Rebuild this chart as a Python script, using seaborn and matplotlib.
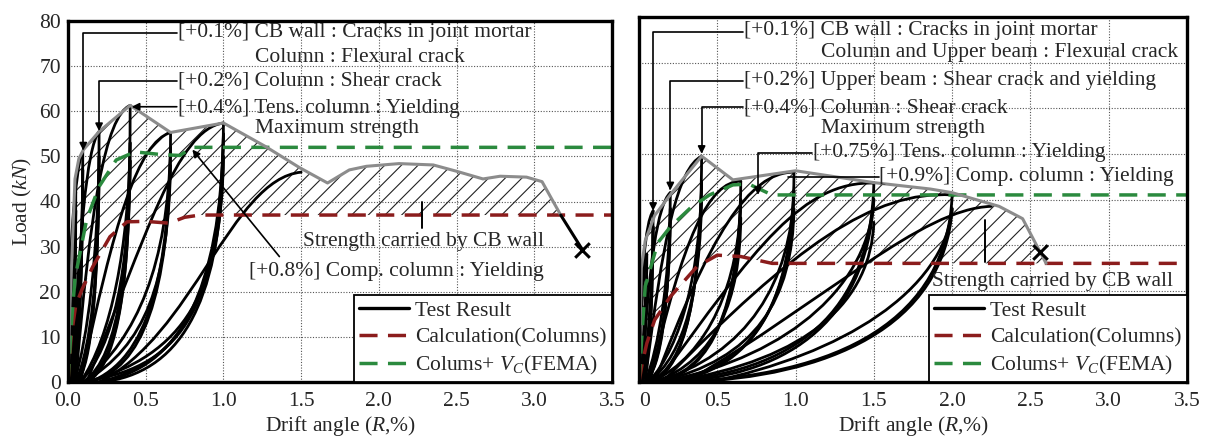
import numpy as np
import matplotlib
matplotlib.use("Agg")
import matplotlib.pyplot as plt
import seaborn as sns
from matplotlib.path import Path
from matplotlib.patches import PathPatch
from matplotlib.lines import Line2D

# ---------------- data ----------------
x_ticks = [0.0, 0.5, 1.0, 1.5, 2.0, 2.5, 3.0, 3.5]
L_xtick_labels = ["0.0", "0.5", "1.0", "1.5", "2.0", "2.5", "3.0", "3.5"]
R_xtick_labels = ["0", "0.5", "1.0", "1.5", "2.0", "2.5", "3.0", "3.5"]
y_ticks = [0, 10, 20, 30, 40, 50, 60, 70, 80]

legend_labels = ["Test Result", "Calculation(Columns)", r"Colums+ $V_C$(FEMA)"]

# ---- left specimen ----
L_env_x = [0.0, 0.01, 0.03, 0.045, 0.07, 0.10, 0.20, 0.40, 0.66, 1.00, 1.27, 1.49,
           1.67, 1.81, 1.92, 2.13, 2.35, 2.50, 2.67, 2.78, 2.95, 3.05, 3.17]
L_env_y = [0.0, 15.0, 32.0, 45.0, 49.5, 51.5, 55.5, 61.3, 55.3, 57.4, 52.2, 47.5,
           44.1, 47.0, 47.8, 48.4, 48.1, 46.7, 45.0, 45.6, 45.4, 44.4, 37.0]
L_fail_x = [3.17, 3.31]
L_fail_y = [37.0, 29.3]
L_calc_x = [0.0, 0.02, 0.05, 0.09, 0.16, 0.27, 0.38, 0.50, 0.65, 0.75, 0.85, 3.5]
L_calc_y = [0.0, 10.0, 17.0, 20.5, 25.6, 32.2, 35.5, 35.6, 35.2, 36.5, 37.0, 37.0]
L_fema_x = [0.0, 0.02, 0.045, 0.12, 0.20, 0.31, 0.43, 0.60, 0.72, 0.80, 3.5]
L_fema_y = [0.0, 12.0, 23.0, 36.0, 43.3, 49.2, 51.0, 50.4, 50.2, 52.0, 52.0]
L_cross = (3.31, 29.3)

# hysteresis branches: (x0, y0, c1x, c1y, c2x, c2y, x3, y3) cubic Bezier control points
L_branches = [
    (0.00, 0, 0.010, 22, 0.020, 36, 0.050, 42),
    (0.050, 42, 0.048, 20, 0.035, 5, 0.010, 0),
    (0.010, 0, 0.030, 14, 0.045, 28, 0.050, 38),
    (0.050, 38, 0.047, 15, 0.035, 4, 0.015, 0),
    (0.010, 0, 0.020, 30, 0.040, 47, 0.095, 51),
    (0.095, 51, 0.093, 22, 0.070, 6, 0.030, 0),
    (0.020, 0, 0.060, 10, 0.090, 28, 0.095, 47),
    (0.095, 47, 0.092, 18, 0.060, 4, 0.030, 0),
    (0.020, 0, 0.070, 8, 0.092, 25, 0.095, 44),
    (0.030, 0, 0.070, 32, 0.120, 52, 0.200, 55.5),
    (0.200, 55.5, 0.198, 24, 0.160, 6, 0.060, 0),
    (0.040, 0, 0.130, 10, 0.190, 28, 0.200, 50),
    (0.200, 50, 0.195, 20, 0.150, 4, 0.060, 0),
    (0.050, 0, 0.150, 8, 0.195, 24, 0.200, 46),
    (0.050, 0, 0.140, 38, 0.240, 59, 0.400, 61.3),
    (0.400, 61.3, 0.398, 26, 0.340, 6, 0.100, 0),
    (0.080, 0, 0.280, 10, 0.390, 30, 0.400, 53),
    (0.400, 53, 0.395, 20, 0.320, 4, 0.100, 0),
    (0.080, 0, 0.300, 8, 0.390, 25, 0.400, 49),
    (0.400, 49, 0.390, 18, 0.300, 3, 0.120, 0),
    (0.080, 0, 0.300, 36, 0.450, 53, 0.660, 55.3),
    (0.660, 55.3, 0.655, 24, 0.520, 5, 0.140, 0),
    (0.100, 0, 0.450, 10, 0.640, 26, 0.660, 52),
    (0.660, 52, 0.650, 19, 0.480, 3, 0.140, 0),
    (0.100, 0, 0.500, 8, 0.645, 22, 0.660, 48),
    (0.120, 0, 0.500, 32, 0.700, 56, 1.000, 57.4),
    (1.000, 57.4, 0.995, 24, 0.820, 5, 0.200, 0),
    (0.080, 0, 0.700, 3, 0.980, 14, 1.000, 55),
    (1.000, 55, 0.980, 20, 0.720, 3, 0.200, 0),
    (0.120, 0, 0.750, 6, 0.990, 20, 1.000, 50),
    (1.000, 50, 0.980, 16, 0.700, 2, 0.220, 0),
    (0.200, 0, 0.800, 10, 1.050, 45, 1.500, 46.5),
]

L_texts = ["[+0.1%] CB wall : Cracks in joint mortar", "Column : Flexural crack",
           "[+0.2%] Column : Shear crack", "[+0.4%] Tens. column : Yielding",
           "Maximum strength", "[+0.8%] Comp. column : Yielding",
           "Strength carried by CB wall"]
L_text_x = [0.705, 1.204, 0.705, 0.705, 1.204, 1.163, 1.51]
L_text_y = [77.4, 71.9, 66.8, 60.7, 56.1, 24.4, 31.1]
# elbow arrows (start at text, tip on curve)
L_elbow_from = [(0.70, 77.4), (0.70, 66.8)]
L_elbow_to = [(0.098, 51.3), (0.20, 55.6)]
# straight arrows
L_arrow_from = [(0.70, 61.0), (1.36, 27.8)]
L_arrow_to = [(0.41, 61.0), (0.80, 51.5)]
L_mark_x = [2.28, 2.28]
L_mark_y = [34.1, 39.8]

# ---- right specimen ----
R_env_x = [0.0, 0.015, 0.04, 0.10, 0.21, 0.40, 0.60, 1.00, 1.50, 1.86, 2.00, 2.30, 2.45, 2.60]
R_env_y = [0.0, 25.0, 31.0, 36.5, 41.5, 49.5, 44.3, 46.3, 43.7, 42.3, 41.5, 38.5, 35.8, 26.0]
R_calc_x = [0.0, 0.02, 0.05, 0.10, 0.20, 0.37, 0.50, 0.65, 0.85, 3.5]
R_calc_y = [0.0, 4.0, 8.5, 13.6, 18.7, 25.3, 27.8, 27.5, 26.0, 26.0]
R_fema_x = [0.0, 0.02, 0.04, 0.12, 0.20, 0.33, 0.45, 0.60, 0.70, 0.85, 3.5]
R_fema_y = [0.0, 11.0, 21.0, 30.5, 34.0, 38.2, 41.0, 43.2, 43.4, 41.0, 41.0]
R_cross = (2.56, 28.5)

R_branches = [
    (0.00, 0, 0.010, 15, 0.030, 25, 0.050, 28),
    (0.050, 28, 0.047, 12, 0.035, 3, 0.010, 0),
    (0.010, 0, 0.030, 10, 0.045, 20, 0.050, 25),
    (0.000, 0, 0.012, 24, 0.040, 35, 0.090, 37.5),
    (0.090, 37.5, 0.088, 15, 0.065, 3, 0.020, 0),
    (0.020, 0, 0.060, 8, 0.085, 22, 0.090, 34),
    (0.090, 34, 0.085, 12, 0.055, 2, 0.020, 0),
    (0.020, 0, 0.060, 26, 0.120, 39, 0.200, 41.5),
    (0.200, 41.5, 0.195, 16, 0.140, 3, 0.040, 0),
    (0.040, 0, 0.130, 8, 0.190, 22, 0.200, 38),
    (0.200, 38, 0.190, 12, 0.110, 2, 0.040, 0),
    (0.040, 0, 0.140, 6, 0.195, 19, 0.200, 35),
    (0.040, 0, 0.150, 32, 0.250, 47, 0.400, 49.5),
    (0.400, 49.5, 0.395, 18, 0.300, 4, 0.070, 0),
    (0.060, 0, 0.280, 8, 0.390, 25, 0.400, 44),
    (0.400, 44, 0.385, 14, 0.250, 2, 0.080, 0),
    (0.060, 0, 0.300, 6, 0.390, 21, 0.400, 40),
    (0.070, 0, 0.280, 32, 0.450, 44, 0.650, 44),
    (0.650, 44, 0.645, 15, 0.450, 2, 0.100, 0),
    (0.080, 0, 0.450, 6, 0.640, 22, 0.650, 40),
    (0.650, 40, 0.630, 12, 0.400, 1, 0.100, 0),
    (0.100, 0, 0.500, 5, 0.645, 18, 0.650, 36),
    (0.100, 0, 0.450, 32, 0.700, 46, 0.990, 46),
    (0.990, 46, 0.985, 15, 0.700, 2, 0.120, 0),
    (0.100, 0, 0.700, 6, 0.970, 22, 0.990, 42),
    (0.990, 42, 0.970, 12, 0.600, 1, 0.150, 0),
    (0.120, 0, 0.750, 5, 0.980, 18, 0.990, 38),
    (0.120, 0, 0.750, 30, 1.050, 44, 1.500, 43.6),
    (1.500, 43.6, 1.480, 15, 1.000, 2, 0.150, 0),
    (0.150, 0, 1.000, 6, 1.470, 22, 1.500, 40),
    (1.500, 40, 1.450, 12, 0.900, 1, 0.200, 0),
    (0.200, 0, 1.100, 5, 1.480, 18, 1.500, 35),
    (0.150, 0, 1.000, 30, 1.500, 42, 2.000, 41),
    (2.000, 41, 1.970, 14, 1.300, 1, 0.200, 0),
    (0.450, 0, 1.300, 6, 1.950, 20, 2.000, 38),
    (2.000, 38, 1.950, 12, 1.200, 1, 0.300, 0),
    (0.300, 0, 1.200, 18, 1.800, 38, 2.250, 38.5),
]

R_texts = ["[+0.1%] CB wall : Cracks in joint mortar", "Column and Upper beam : Flexural crack",
           "[+0.2%] Upper beam : Shear crack and yielding", "[+0.4%] Column : Shear crack",
           "Maximum strength", "[+0.75%] Tens. column : Yielding",
           "[+0.9%] Comp. column : Yielding", "Strength carried by CB wall"]
R_text_x = [0.671, 1.16, 0.671, 0.671, 1.16, 1.11, 1.535, 1.87]
R_text_y = [77.1, 72.3, 66.0, 60.1, 55.5, 50.2, 45.0, 22.0]
R_elbow_from = [(0.665, 76.8), (0.665, 66.0), (0.665, 60.3), (1.105, 50.3)]
R_elbow_to = [(0.09, 37.5), (0.20, 42.0), (0.40, 50.0), (0.76, 41.0)]
R_line_x = [1.53, 0.95]
R_line_y = [45.0, 45.0]
R_mark_x = [2.21, 2.21]
R_mark_y = [26.2, 35.4]

# ---------------- style ----------------
sns.set_theme(style="white")
FONT = "Liberation Serif"
plt.rcParams["font.family"] = [FONT, "DejaVu Serif"]
plt.rcParams["mathtext.fontset"] = "custom"
plt.rcParams["mathtext.rm"] = FONT
plt.rcParams["mathtext.it"] = FONT + ":italic"
plt.rcParams["mathtext.bf"] = FONT + ":bold"
plt.rcParams["hatch.linewidth"] = 0.8
plt.rcParams["hatch.color"] = "#222222"

FS = 15.5
ENV_C = "#8c8c8c"
RED_C = "#8b1c1c"
GRN_C = "#2b8a3e"
DASH = (0, (5.2, 3.0))

fig = plt.figure(figsize=(12.05, 4.42), dpi=100)
axL = fig.add_axes([68 / 1205, 60 / 442, 544 / 1205, 361 / 442])
axR = fig.add_axes([639 / 1205, 60 / 442, 548 / 1205, 365 / 442])


def draw_branches(ax, branches):
    codes = [Path.MOVETO, Path.CURVE4, Path.CURVE4, Path.CURVE4]
    for b in branches:
        verts = [(b[0], b[1]), (b[2], b[3]), (b[4], b[5]), (b[6], b[7])]
        ax.add_patch(PathPatch(Path(verts, codes), facecolor="none", edgecolor="black",
                               lw=2.0, zorder=4, capstyle="round", joinstyle="round"))


def hatch_region(ax, env_x, env_y, calc_x, calc_y):
    ex = np.asarray(env_x, float)
    ey = np.asarray(env_y, float)
    cx = np.asarray(calc_x, float)
    cy = np.asarray(calc_y, float)
    keep = cx < ex[-1]
    px = np.concatenate([ex, cx[keep][::-1]])
    py = np.concatenate([ey, cy[keep][::-1]])
    ax.fill(px, py, facecolor="none", edgecolor="#222222", hatch="//", lw=0, zorder=2)


def setup(ax, xlabels, show_y, first_left=False):
    ax.set_xlim(0, 3.5)
    ax.set_ylim(0, 80)
    ax.set_xticks(x_ticks)
    ax.set_xticklabels(xlabels, fontsize=FS)
    if first_left:
        ax.get_xticklabels()[0].set_horizontalalignment("left")
    ax.set_yticks(y_ticks)
    if show_y:
        ax.set_yticklabels([str(v) for v in y_ticks], fontsize=FS)
        ax.set_ylabel(r"Load ($kN$)", fontsize=FS, labelpad=4)
    else:
        ax.set_yticklabels([])
    ax.tick_params(axis="y", length=0, pad=5)
    ax.tick_params(axis="x", length=0, pad=7)
    ax.grid(True, linestyle=(0, (1, 1.5)), color="#555555", lw=0.8)
    ax.set_axisbelow(True)
    for s in ax.spines.values():
        s.set_color("black")
        s.set_linewidth(2.4)
        s.set_zorder(10)
    ax.set_xlabel(r"Drift angle ($R$,%)", fontsize=FS, labelpad=2)


def panel(ax, env_x, env_y, calc_x, calc_y, fema_x, fema_y, branches, cross):
    hatch_region(ax, env_x, env_y, calc_x, calc_y)
    draw_branches(ax, branches)
    sns.lineplot(x=calc_x, y=calc_y, ax=ax, color=RED_C, lw=2.5, ls=DASH,
                 sort=False, estimator=None, zorder=5)
    sns.lineplot(x=fema_x, y=fema_y, ax=ax, color=GRN_C, lw=2.5, ls=DASH,
                 sort=False, estimator=None, zorder=5)
    sns.lineplot(x=env_x, y=env_y, ax=ax, color=ENV_C, lw=2.2,
                 sort=False, estimator=None, zorder=6)
    sns.scatterplot(x=[cross[0]], y=[cross[1]], ax=ax, marker="x", s=110,
                    color="black", linewidth=2.2, zorder=8)


def legend(ax):
    handles = [Line2D([], [], color="black", lw=2.4),
               Line2D([], [], color=RED_C, lw=2.5, ls=DASH),
               Line2D([], [], color=GRN_C, lw=2.5, ls=DASH)]
    lg = ax.legend(handles, legend_labels, loc="lower right", bbox_to_anchor=(1.0, 0.0),
                   borderaxespad=0.0, fancybox=False, framealpha=1.0, edgecolor="black",
                   fontsize=FS, handlelength=2.3, handletextpad=0.3, labelspacing=0.3,
                   borderpad=0.25)
    lg.get_frame().set_linewidth(1.3)
    lg.set_zorder(12)


ARROW = dict(arrowstyle="-|>", color="black", lw=1.2, mutation_scale=11, shrinkA=0, shrinkB=0)
ELBOW = dict(ARROW, connectionstyle="angle,angleA=0,angleB=90,rad=0")

# ---- left ----
panel(axL, L_env_x, L_env_y, L_calc_x, L_calc_y, L_fema_x, L_fema_y, L_branches, L_cross)
sns.lineplot(x=L_fail_x, y=L_fail_y, ax=axL, color="black", lw=2.2, sort=False,
             estimator=None, zorder=7)
sns.lineplot(x=L_mark_x, y=L_mark_y, ax=axL, color="black", lw=1.4, sort=False,
             estimator=None, zorder=7)
for t, x, y in zip(L_texts, L_text_x, L_text_y):
    axL.text(x, y, t, fontsize=FS, ha="left", va="center", zorder=9)
for a, b in zip(L_elbow_from, L_elbow_to):
    axL.annotate("", xy=b, xytext=a, arrowprops=ELBOW, zorder=9)
for a, b in zip(L_arrow_from, L_arrow_to):
    axL.annotate("", xy=b, xytext=a, arrowprops=ARROW, zorder=9)
setup(axL, L_xtick_labels, True)
legend(axL)

# ---- right ----
panel(axR, R_env_x, R_env_y, R_calc_x, R_calc_y, R_fema_x, R_fema_y, R_branches, R_cross)
sns.lineplot(x=R_mark_x, y=R_mark_y, ax=axR, color="black", lw=1.4, sort=False,
             estimator=None, zorder=7)
sns.lineplot(x=R_line_x, y=R_line_y, ax=axR, color="black", lw=1.2, sort=False,
             estimator=None, zorder=9)
for t, x, y in zip(R_texts, R_text_x, R_text_y):
    axR.text(x, y, t, fontsize=FS, ha="left", va="center", zorder=9)
for a, b in zip(R_elbow_from, R_elbow_to):
    axR.annotate("", xy=b, xytext=a, arrowprops=ELBOW, zorder=9)
setup(axR, R_xtick_labels, False, first_left=True)
legend(axR)

fig.savefig("out.png", dpi=100)
